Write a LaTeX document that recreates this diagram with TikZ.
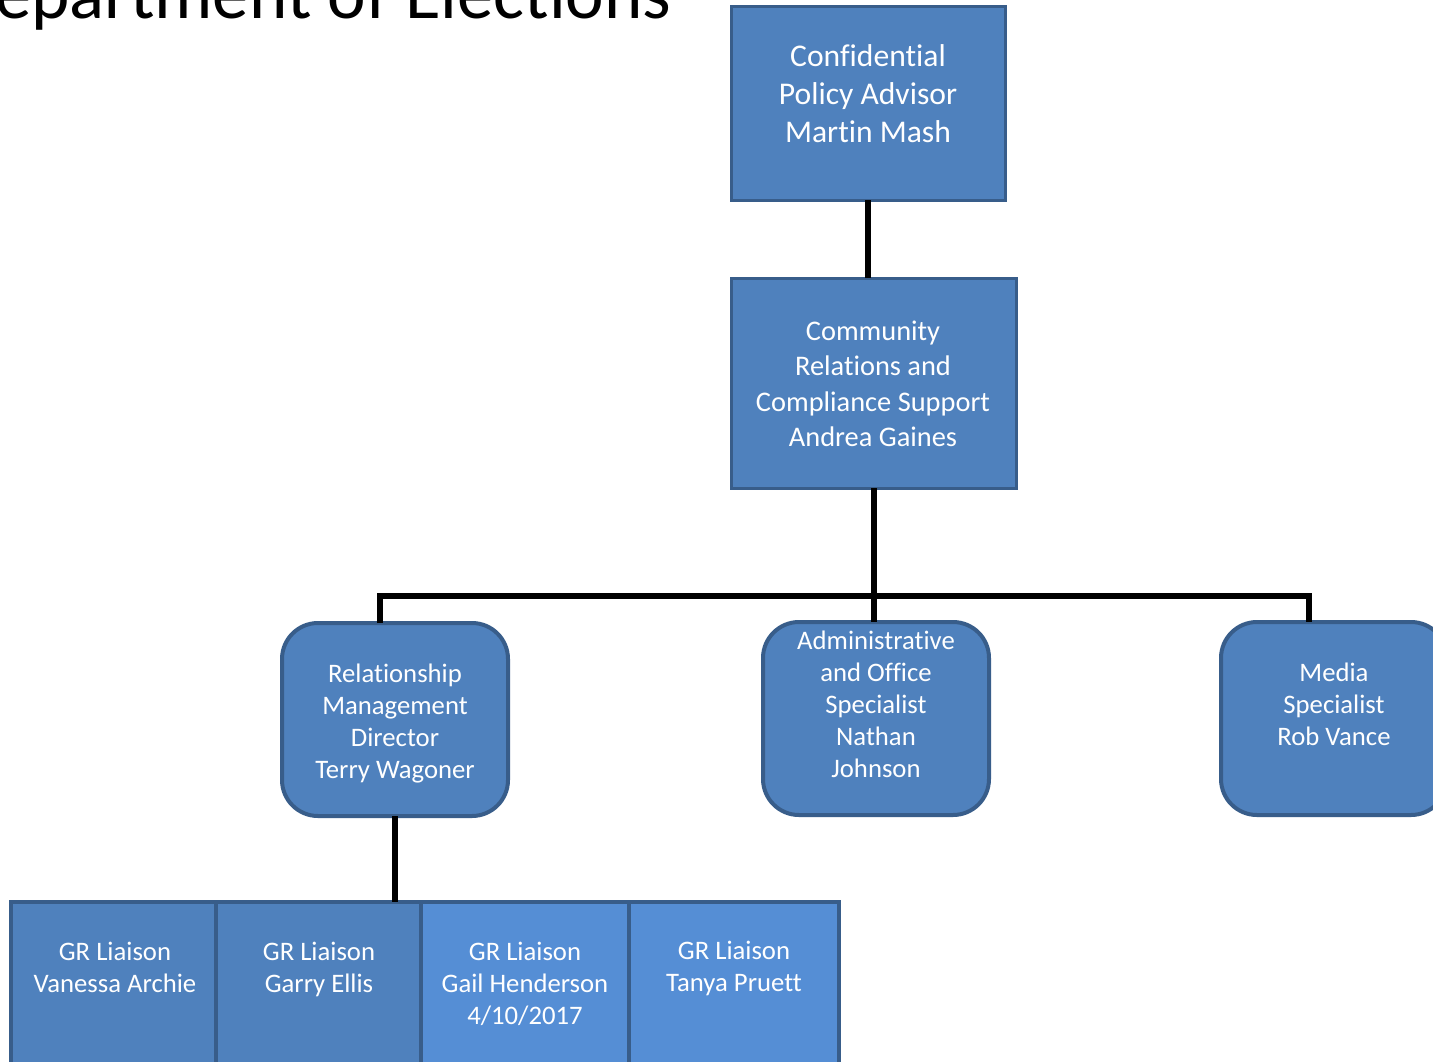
\documentclass[tikz,border=0pt]{standalone}
\usepackage{fontspec}
\setmainfont{Carlito}[Ligatures=NoCommon]
\definecolor{boxfill}{RGB}{79,129,189}
\definecolor{boxline}{RGB}{56,93,138}
\definecolor{boxlight}{RGB}{85,142,213}
\begin{document}
\begin{tikzpicture}[x=1pt,y=-1pt,
  box/.style={draw=boxline, fill=boxfill, line width=3pt, inner sep=0pt, outer sep=0pt},
  rbox/.style={box, rounded corners=36pt, line width=4pt},
  grbox/.style={box, line width=4pt, minimum height=178pt},
  lbl/.style={text=white, align=center, inner sep=0pt},
  small/.style={font=\fontsize{26.7}{32}\selectfont},
  conn/.style={line width=6pt, black}]
\clip (0,0) rectangle (1433,1061);
\fill[white] (0,0) rectangle (1433,1061);
% title
\node[anchor=base west, inner sep=0pt, font=\fontsize{73}{80}\selectfont] (title) at (-50,18.5) {Department of Elections};
% boxes
\node[box, minimum width=274pt, minimum height=194pt] (conf) at (868,103) {};
\node[box, minimum width=285pt, minimum height=210pt] (comm) at (873.5,383) {};
\node[rbox, minimum width=226pt, minimum height=193pt] (rel) at (395,719.5) {};
\node[rbox, minimum width=226pt, minimum height=193pt] (admin) at (876,718.5) {};
\node[rbox, minimum width=226pt, minimum height=193pt] (media) at (1334,718.5) {};
\node[grbox, minimum width=205pt] (gr1) at (113.5,991) {};
\node[grbox, minimum width=205pt] (gr2) at (318.5,991) {};
\node[grbox, fill=boxlight, minimum width=208pt] (gr3) at (525,991) {};
\node[grbox, fill=boxlight, minimum width=210pt] (gr4) at (734,991) {};
% connectors
\coordinate (jL) at (380,596);
\coordinate (jR) at (1309,596);
\draw[conn] (conf.south) -- (comm.north -| conf.south);
\draw[conn] (comm.south) -- (admin.north -| comm.south);
\draw[conn] (rel.north -| jL) -- (jL) -- (jR) -- (media.north -| jR);
\draw[conn] (rel.south) -- (gr2.north -| rel.south);
% texts
\node[lbl, font=\fontsize{31.6}{38}\selectfont] (tconf) at (868,94) {Confidential\\Policy Advisor\\Martin Mash};
\node[lbl, font=\fontsize{28.4}{35.5}\selectfont] (tcomm) at (873,384) {Community\\Relations and\\Compliance Support\\Andrea Gaines};
\node[lbl, small] (trel) at (395,724) {Relationship\\Management\\Director\\Terry Wagoner};
\node[lbl, small] (tadmin) at (876,704) {Administrative\\and Office\\Specialist\\Nathan\\Johnson};
\node[lbl, small] (tmedia) at (1334,704) {Media\\Specialist\\Rob Vance};
\node[lbl, small] (tgr1) at (115,967) {GR Liaison\\Vanessa Archie};
\node[lbl, small] (tgr2) at (319,969) {GR Liaison\\Garry Ellis};
\node[lbl, small] (tgr3) at (525,984) {GR Liaison\\Gail Henderson\\4/10/2017};
\node[lbl, small] (tgr4) at (734,968) {GR Liaison\\Tanya Pruett};
\end{tikzpicture}
\end{document}
